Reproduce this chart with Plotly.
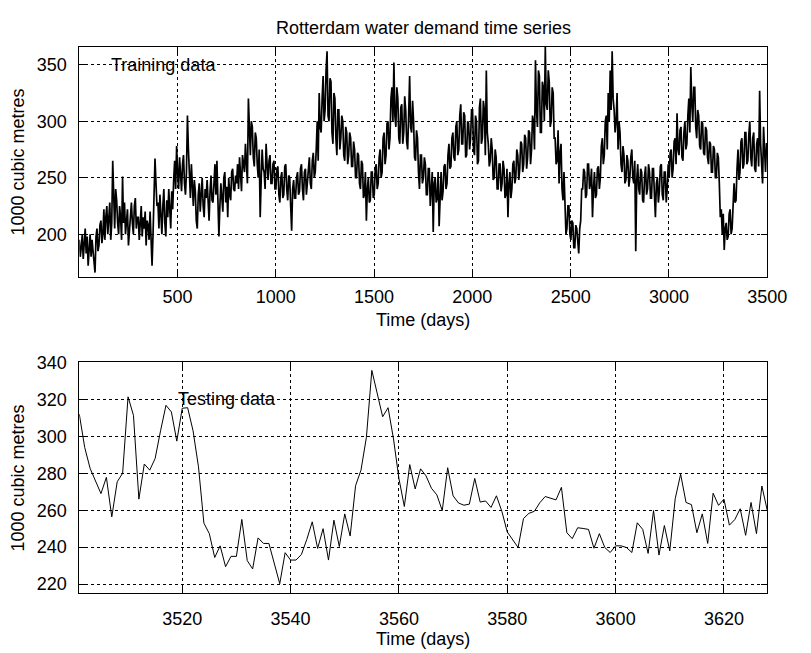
import plotly.graph_objects as go

# ---------------- data ----------------
train_values = [
    195, 180, 188, 200, 178, 192, 205, 183, 198, 172, 190, 200, 180, 195, 185, 170, 166, 198, 205, 185,
    190, 208, 212, 192, 200, 222, 195, 215, 225, 200, 212, 228, 195, 210, 265, 220, 205, 240, 230, 210,
    200, 225, 215, 195, 251, 210, 228, 200, 215, 222, 190, 205, 218, 228, 210, 200, 225, 232, 205, 215,
    215, 195, 210, 225, 198, 215, 205, 220, 190, 212, 208, 195, 220, 200, 172, 200, 235, 267, 245, 225,
    228, 205, 235, 215, 200, 225, 240, 210, 198, 230, 215, 240, 225, 205, 238, 222, 248, 265, 240, 278,
    255, 240, 268, 250, 238, 262, 270, 245, 235, 255, 305, 275, 250, 232, 262, 240, 225, 248, 238, 212,
    205, 235, 245, 220, 238, 250, 225, 215, 240, 232, 248, 222, 212, 238, 252, 230, 228, 245, 262, 235,
    265, 230, 198, 225, 245, 232, 220, 250, 255, 228, 242, 215, 250, 235, 230, 255, 258, 240, 238, 252,
    245, 262, 240, 268, 250, 238, 270, 258, 255, 280, 265, 245, 320, 285, 270, 300, 295, 268, 260, 290,
    285, 262, 250, 275, 215, 248, 275, 258, 255, 240, 280, 262, 248, 265, 270, 245, 245, 262, 265, 240,
    240, 258, 260, 235, 228, 250, 255, 232, 235, 260, 262, 240, 230, 252, 250, 225, 203, 240, 248, 232,
    232, 250, 255, 235, 238, 258, 262, 240, 230, 255, 258, 235, 245, 262, 268, 245, 240, 265, 272, 250,
    255, 275, 300, 265, 325, 295, 290, 320, 340, 300, 310, 345, 362, 305, 300, 338, 335, 290, 280, 325,
    320, 285, 270, 310, 310, 275, 285, 305, 300, 270, 265, 295, 290, 262, 270, 290, 285, 260, 260, 282,
    275, 250, 250, 272, 270, 245, 240, 265, 262, 232, 235, 255, 212, 240, 250, 228, 230, 255, 255, 232,
    235, 258, 262, 240, 245, 268, 275, 250, 255, 285, 290, 262, 270, 298, 300, 275, 285, 320, 330, 300,
    352, 305, 295, 330, 320, 285, 280, 312, 315, 280, 290, 322, 310, 282, 275, 305, 340, 295, 290, 318,
    300, 268, 265, 292, 285, 255, 240, 270, 270, 245, 250, 268, 262, 235, 235, 258, 258, 225, 240, 255,
    202, 245, 250, 228, 232, 255, 207, 240, 255, 230, 238, 260, 262, 240, 245, 270, 280, 258, 260, 285,
    290, 268, 265, 295, 300, 270, 275, 305, 315, 280, 280, 308, 305, 268, 270, 300, 298, 275, 285, 310,
    310, 275, 270, 305, 300, 262, 265, 312, 320, 280, 285, 318, 310, 270, 345, 290, 280, 260, 265, 285,
    275, 248, 250, 275, 268, 240, 240, 262, 262, 238, 245, 265, 258, 232, 235, 258, 215, 245, 255, 232,
    240, 262, 265, 245, 250, 275, 270, 248, 258, 282, 280, 255, 262, 288, 285, 258, 268, 292, 290, 262,
    275, 305, 300, 275, 354, 310, 295, 345, 340, 290, 290, 335, 330, 300, 366, 315, 310, 345, 335, 295,
    300, 330, 325, 285, 285, 262, 265, 292, 245, 272, 280, 240, 230, 255, 215, 200, 205, 225, 225, 200,
    195, 212, 210, 188, 188, 208, 205, 190, 183, 205, 212, 240, 240, 258, 255, 232, 235, 262, 262, 240,
    245, 258, 215, 240, 255, 232, 235, 258, 260, 240, 250, 278, 285, 262, 270, 300, 305, 275, 325, 300,
    345, 310, 362, 320, 310, 290, 300, 325, 275, 300, 290, 262, 255, 278, 270, 245, 248, 270, 265, 242,
    250, 268, 275, 250, 245, 265, 185, 248, 262, 240, 235, 258, 255, 230, 228, 252, 260, 235, 240, 262,
    255, 232, 232, 258, 258, 235, 215, 245, 250, 228, 238, 260, 262, 235, 230, 255, 255, 228, 240, 262,
    250, 272, 275, 250, 258, 282, 285, 262, 307, 275, 270, 292, 295, 268, 265, 290, 300, 275, 280, 305,
    320, 290, 348, 315, 300, 330, 330, 295, 285, 310, 305, 278, 275, 300, 298, 272, 270, 295, 292, 268,
    262, 282, 280, 255, 255, 278, 275, 250, 250, 272, 268, 245, 215, 222, 200, 218, 186, 205, 210, 195,
    198, 218, 222, 200, 205, 225, 245, 228, 230, 258, 275, 248, 255, 282, 285, 258, 262, 290, 290, 262,
    265, 288, 300, 268, 260, 285, 290, 258, 255, 280, 285, 260, 327, 280, 260, 245, 295, 265, 255, 280,
    280,
]
train_days = list(range(1, 3500, 5)) + [3500]

test_days = list(range(3501, 3629))
test_values = [
    312, 294, 282.6, 276, 269, 277.8, 256.4, 275.4, 280, 321.4,
    311.4, 266, 285, 281.7, 288, 303, 316.8, 313.2, 297.4, 315.2,
    315.5, 303, 283.5, 253, 247.3, 234.4, 240.7, 229.4, 235, 235,
    255, 232.7, 228.2, 245, 242, 242, 231, 220.2, 237, 233,
    233, 236, 244.2, 253.7, 239.3, 250, 233, 254.6, 240.3, 258,
    246, 273.3, 281.7, 299.5, 335.7, 322.7, 310.6, 315.5, 298.6, 277.2,
    262, 284.7, 271.5, 282.4, 278.6, 271.9, 268.3, 259.8, 283, 267.8,
    263.9, 262.7, 263.3, 277.2, 264.4, 265, 261.5, 267.8, 259.4, 248.2,
    244.2, 239.8, 255.5, 258.3, 259.4, 264, 267.4, 266.5, 265.6, 272.4,
    247.8, 244.6, 250.5, 250.1, 249.6, 239.4, 247.3, 239.8, 237.1, 240.7,
    240.7, 239.8, 237.1, 253.2, 249.6, 236.6, 259.8, 235.7, 251.7, 238,
    266.2, 279.5, 264.2, 263, 247.8, 258, 242, 269.2, 262.6, 266,
    251.9, 254.9, 260.8, 246.4, 264.2, 247.3, 273.1, 259.8,
]

train_xticks = [500, 1000, 1500, 2000, 2500, 3000, 3500]
train_yticks = [200, 250, 300, 350]
test_xticks = [3520, 3540, 3560, 3580, 3600, 3620]
test_yticks = [220, 240, 260, 280, 300, 320, 340]

title_text = "Rotterdam water demand time series"
x_label = "Time (days)"
y_label = "1000 cubic metres"

assert len(train_days) == len(train_values)
assert len(test_days) == len(test_values)

# ---------------- figure ----------------
W, H = 811, 653
FONT = "Liberation Sans, Arial, Helvetica, sans-serif"

fig = go.Figure()
fig.add_trace(go.Scatter(x=train_days, y=train_values, mode="lines",
                         line=dict(color="black", width=1.7),
                         xaxis="x", yaxis="y", showlegend=False))
fig.add_trace(go.Scatter(x=test_days, y=test_values, mode="lines",
                         line=dict(color="black", width=1),
                         xaxis="x2", yaxis="y2", showlegend=False))

xdom = [81.3 / W, 786.7 / W]
top_dom = [1 - 271.7 / H, 1 - 37.3 / H]
bot_dom = [1 - 593.3 / H, 1 - 358.5 / H]

common = dict(showline=True, linecolor="black", linewidth=1, mirror="ticks",
              ticks="inside", ticklen=6, tickcolor="black", tickwidth=1,
              showgrid=True, gridcolor="black", gridwidth=1, griddash="3px,3px",
              zeroline=False, tickfont=dict(family=FONT, size=18, color="black"))

fig.update_layout(
    width=W, height=H,
    margin=dict(l=0, r=0, t=0, b=0),
    paper_bgcolor="white", plot_bgcolor="white",
    xaxis=dict(domain=xdom, range=[1, 3500], tickvals=train_xticks,
               anchor="y", ticklabelstandoff=3, **common),
    yaxis=dict(domain=top_dom, range=[162, 366], tickvals=train_yticks,
               anchor="x", ticklabelstandoff=8, **common),
    xaxis2=dict(domain=xdom, range=[3501, 3628], tickvals=test_xticks,
                anchor="y2", ticklabelstandoff=9, **common),
    yaxis2=dict(domain=bot_dom, range=[215, 340], tickvals=test_yticks,
                anchor="x2", ticklabelstandoff=8, **common),
)

ann_font = dict(family=FONT, size=18, color="black")
annotations = [
    dict(text=title_text, x=434 / W, y=1 - 18 / H, xref="paper", yref="paper",
         xanchor="center", yanchor="middle", showarrow=False,
         font=dict(family=FONT, size=18, color="black")),
    dict(text=x_label, x=434 / W, y=1 - 315 / H, xref="paper", yref="paper",
         xanchor="center", yanchor="middle", showarrow=False, font=ann_font),
    dict(text=x_label, x=434 / W, y=1 - 640 / H, xref="paper", yref="paper",
         xanchor="center", yanchor="middle", showarrow=False, font=ann_font),
    dict(text=y_label, x=18 / W, y=1 - 154.5 / H, xref="paper", yref="paper",
         xanchor="center", yanchor="middle", textangle=-90, showarrow=False,
         font=ann_font),
    dict(text=y_label, x=18 / W, y=1 - 476 / H, xref="paper", yref="paper",
         xanchor="center", yanchor="middle", textangle=-90, showarrow=False,
         font=ann_font),
    dict(text="Training data", x=159, y=350, xref="x", yref="y",
         xanchor="left", yanchor="middle", showarrow=False, borderpad=0,
         font=ann_font),
    dict(text="Testing data", x=3519, y=320, xref="x2", yref="y2",
         xanchor="left", yanchor="middle", showarrow=False, borderpad=0,
         font=ann_font),
]
fig.update_layout(annotations=annotations)

fig.write_html("out.html")
